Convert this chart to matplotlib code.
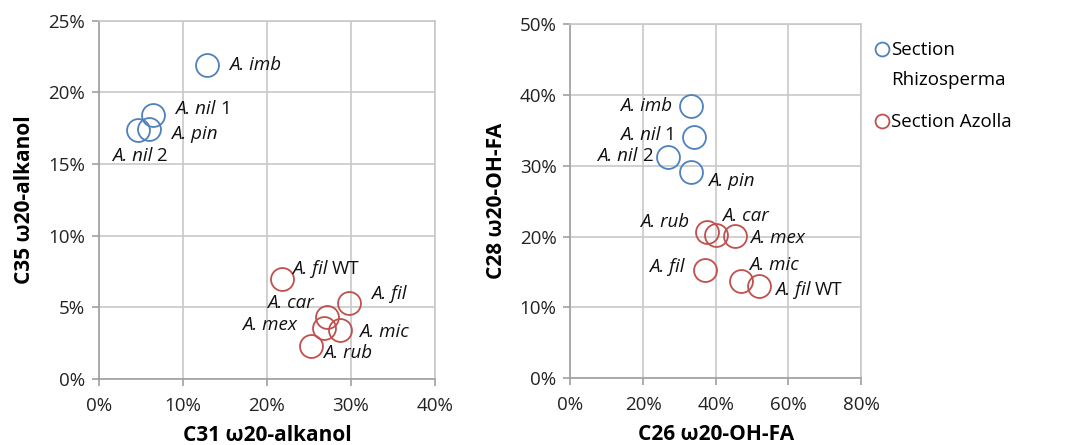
import matplotlib
matplotlib.use("Agg")
import matplotlib.pyplot as plt
from matplotlib.ticker import PercentFormatter
from matplotlib.lines import Line2D
from matplotlib.offsetbox import TextArea, HPacker, AnnotationBbox
from matplotlib.transforms import Affine2D

plt.rcParams['font.family'] = ['Open Sans', 'DejaVu Sans']

# ---- data: left panel (C31 vs C35 w20-alkanol), in % ----
rhizo_names_L = ["imb", "nil 1", "pin", "nil 2"]
rhizo_x_L = [12.9, 6.4, 5.95, 4.7]
rhizo_y_L = [21.9, 18.45, 17.45, 17.35]
azolla_names_L = ["fil WT", "fil", "car", "mex", "mic", "rub"]
azolla_x_L = [21.8, 29.8, 27.1, 26.8, 28.7, 25.2]
azolla_y_L = [6.95, 5.3, 4.3, 3.55, 3.45, 2.3]

# ---- data: right panel (C26 vs C28 w20-OH-FA), in % ----
rhizo_names_R = ["imb", "nil 1", "nil 2", "pin"]
rhizo_x_R = [33.1, 33.9, 27.0, 33.2]
rhizo_y_R = [38.45, 34.1, 31.2, 29.1]
azolla_names_R = ["rub", "car", "mex", "fil", "mic", "fil WT"]
azolla_x_R = [37.5, 40.0, 45.2, 37.0, 46.9, 51.85]
azolla_y_R = [20.6, 20.3, 20.1, 15.25, 13.7, 13.1]

legend_labels = ["Section\nRhizosperma", "Section Azolla"]

# label placement (offset pixels, horizontal alignment fraction)
lab_L = {
    "imb": (22, 0, 0), "nil 1": (23, 6, 0), "pin": (22, -5, 0),
    "nil 2": (1, -26, 0.5), "fil WT": (10, 10, 0), "fil": (22, 9, 0),
    "car": (-13, 14, 1), "mex": (-27, 3, 1), "mic": (19, -2, 0),
    "rub": (12, -7, 0),
}
lab_R = {
    "imb": (-18, 0, 1), "nil 1": (-18, 2, 1), "nil 2": (-16, 1, 1),
    "pin": (17, -9, 0), "rub": (-17, 10, 1), "car": (6, 19, 0),
    "mex": (15, -2, 0), "fil": (-20, 3, 1), "mic": (8, 16, 0),
    "fil WT": (16, -4, 0),
}

BLUE = '#4F81BD'
RED = '#C0504D'
GRID = '#C8C8C8'
FS = 13.5

fig = plt.figure(figsize=(10.81, 4.45), dpi=100)
axL = fig.add_axes([0.0913, 0.1483, 0.3111, 0.8052])
axR = fig.add_axes([0.5276, 0.1499, 0.2689, 0.7955])

def style(ax, xmax, xstep, ymax, ystep, xlabel, ylabel):
    ax.set_xlim(0, xmax)
    ax.set_ylim(0, ymax)
    ax.set_xticks(range(0, xmax + 1, xstep))
    ax.set_yticks(range(0, ymax + 1, ystep))
    ax.xaxis.set_major_formatter(PercentFormatter(decimals=0))
    ax.yaxis.set_major_formatter(PercentFormatter(decimals=0))
    ax.grid(True, color=GRID, linewidth=1.2)
    ax.set_axisbelow(True)
    for s in ax.spines.values():
        s.set_color(GRID)
        s.set_linewidth(1.2)
    ax.spines['left'].set_color('#A0A0A0')
    ax.spines['bottom'].set_color('#A0A0A0')
    ax.tick_params(axis='both', colors='#A0A0A0', length=5, width=1.2,
                   labelcolor='#222222', labelsize=FS)
    ax.tick_params(axis='x', pad=8)
    ax.tick_params(axis='y', pad=5)
    ax.set_xlabel(xlabel, fontsize=15, fontweight='bold', labelpad=7)
    ax.set_ylabel(ylabel, fontsize=15, fontweight='bold', labelpad=9)

def make_label(name):
    parts = name.split(" ")
    kids = [TextArea("A. " + parts[0],
                     textprops=dict(fontsize=FS, style='italic', color='#111111'))]
    if len(parts) > 1:
        kids.append(TextArea(parts[1], textprops=dict(fontsize=FS, color='#111111')))
    return HPacker(children=kids, align='baseline', pad=0, sep=3)

def plot_group(ax, xs, ys, names, color, labs):
    ax.plot(xs, ys, 'o', ms=16.5, mfc='none', mec=color, mew=1.3, linestyle='none')
    for x, y, n in zip(xs, ys, names):
        dx, dy, ha = labs[n]
        ab = AnnotationBbox(make_label(n), (x, y), xybox=(dx, dy),
                            boxcoords='offset pixels', box_alignment=(ha, 0.5),
                            frameon=False, pad=0)
        ax.add_artist(ab)

style(axL, 40, 10, 25, 5, "C31 ω20-alkanol", "C35 ω20-alkanol")
style(axR, 80, 20, 50, 10, "C26 ω20-OH-FA", "C28 ω20-OH-FA")

plot_group(axL, rhizo_x_L, rhizo_y_L, rhizo_names_L, BLUE, lab_L)
plot_group(axL, azolla_x_L, azolla_y_L, azolla_names_L, RED, lab_L)
plot_group(axR, rhizo_x_R, rhizo_y_R, rhizo_names_R, BLUE, lab_R)
plot_group(axR, azolla_x_R, azolla_y_R, azolla_names_R, RED, lab_R)

handles = [Line2D([], [], marker='o', ls='none', ms=10, mfc='none', mec=BLUE, mew=1.3),
           Line2D([], [], marker='o', ls='none', ms=10, mfc='none', mec=RED, mew=1.3)]
leg = fig.legend(handles, legend_labels, loc='upper left', bbox_to_anchor=(0.8, 0.925),
                 frameon=False, fontsize=FS, handletextpad=0.0, labelspacing=1.3,
                 handlelength=1.0, borderaxespad=0)
for t in leg.get_texts():
    t.set_linespacing(1.85)
h0 = leg.legend_handles[0]
h0.set_transform(h0.get_transform() + Affine2D().translate(0, 16))

fig.savefig("out.png", dpi=100)
